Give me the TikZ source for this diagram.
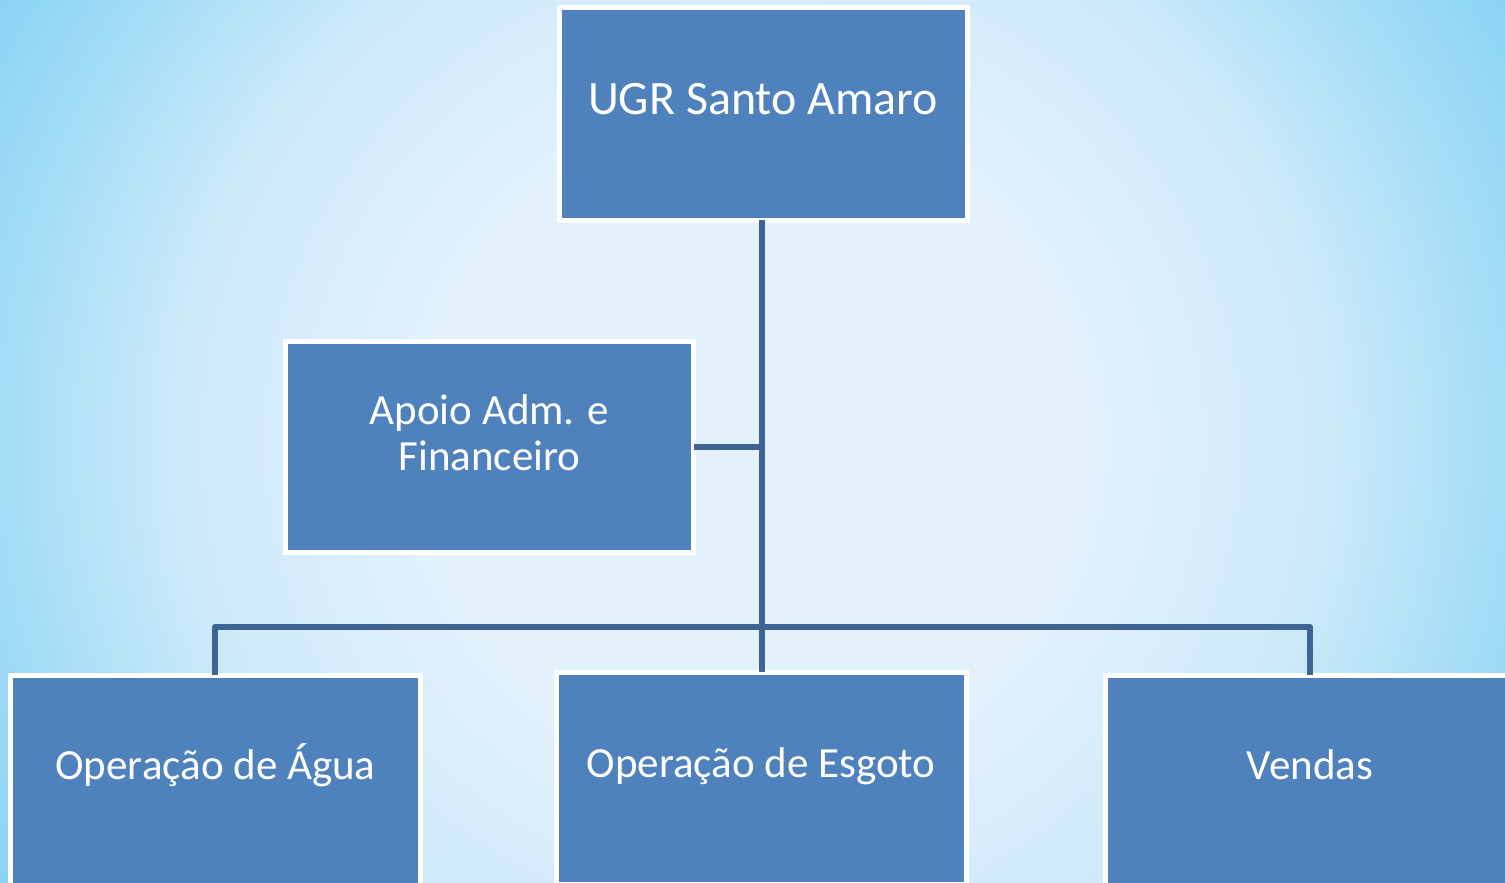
\documentclass[tikz,border=0pt]{standalone}
\usepackage{fontspec}
\setmainfont{Carlito}
\definecolor{boxfill}{HTML}{4F81BD}
\definecolor{linecol}{HTML}{3D6493}
\definecolor{bginner}{HTML}{E2F1FC}
\definecolor{bgmid}{HTML}{CDEAF9}
\definecolor{bgedge}{HTML}{A2DCF6}
\definecolor{bgouter}{HTML}{80CFF4}
\pgfdeclareradialshading{bgshade}{\pgfpoint{0bp}{0bp}}{color(0bp)=(bginner); color(11bp)=(bginner); color(19bp)=(bgmid); color(25bp)=(bgedge); color(31bp)=(bgouter); color(50bp)=(bgouter)}
\begin{document}
\begin{tikzpicture}[x=0.5pt,y=-0.5pt,
  orgbox/.style={draw=white,line width=2.5pt,fill=boxfill,rectangle,inner sep=0pt,outer sep=0pt},
  lbl/.style={text=white,anchor=base,inner sep=0pt,font=\fontsize{21.5}{23}\selectfont,align=center},
  conn/.style={draw=linecol,line width=3pt}]
\useasboundingbox (0,0) rectangle (1505,883);
\clip (0,0) rectangle (1505,883);
\shade[shading=bgshade] (0,-300) rectangle (1505,1183);
% boxes
\node[orgbox,minimum width=204pt,minimum height=106pt] (top) at (763,114) {};
\node[orgbox,minimum width=204pt,minimum height=105.5pt] (apoio) at (489.5,447) {};
\node[orgbox,minimum width=205pt,minimum height=106pt] (agua) at (215.5,781) {};
\node[orgbox,minimum width=205pt,minimum height=106pt] (esgoto) at (761,778) {};
\node[orgbox,minimum width=205pt,minimum height=106pt] (vendas) at (1310,781) {};
% connectors
\coordinate (bus) at (762,627);
\coordinate (busL) at (215,627);
\coordinate (busR) at (1310,627);
\draw[conn] (top.south -| bus) -- (bus);
\draw[conn] (apoio.east) -- (apoio.east -| bus);
\draw[conn,line join=round] (agua.north -| busL) -- (busL) -- (busR) -- (vendas.north -| busR);
\draw[conn] (bus) -- (esgoto.north -| bus);
% labels
\node[lbl,font=\fontsize{24}{25}\selectfont] (tt) at (763,115) {UGR Santo Amaro};
\node[lbl] (at1) at (489.5,470) {Apoio Adm. e\\Financeiro};
\node[lbl] (t3) at (215.5,779) {Operação de Água};
\node[lbl] (t4) at (761,777) {Operação de Esgoto};
\node[lbl] (t5) at (1310,779) {Vendas};
\end{tikzpicture}
\end{document}
